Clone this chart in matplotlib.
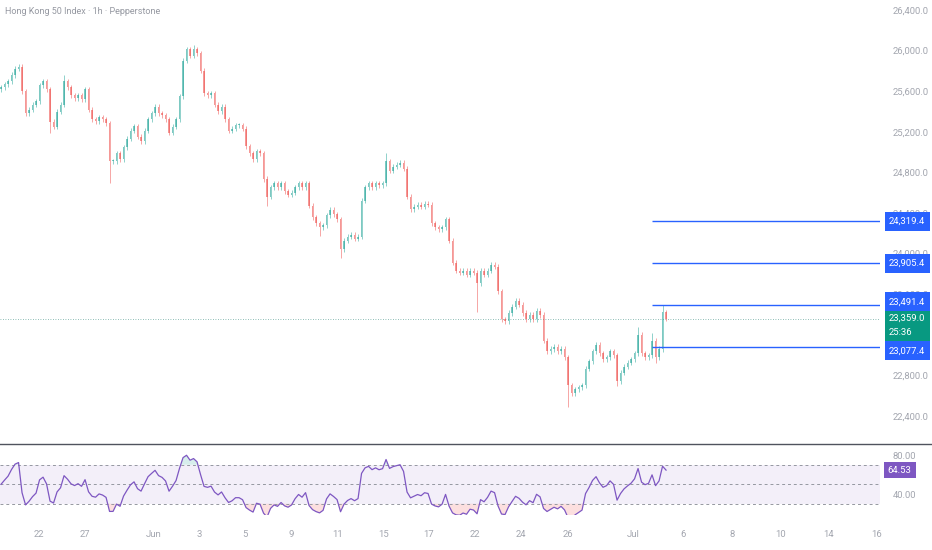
import matplotlib

matplotlib.use("Agg")
import matplotlib.pyplot as plt
import matplotlib.transforms as mtransforms
from matplotlib.lines import Line2D
from matplotlib.patches import Rectangle
import numpy as np

# hourly closes (one entry per drawn candle)
closes = [
    25640, 25670, 25700, 25760, 25820, 25840, 25600, 25385, 25420, 25465,
    25500, 25660, 25700, 25620, 25300, 25250, 25400, 25465, 25700, 25640,
    25560, 25530, 25560, 25520, 25620, 25420, 25325, 25305, 25345, 25325,
    25285, 24910, 24910, 24990, 24930, 25050, 25130, 25210, 25255, 25150,
    25110, 25210, 25325, 25385, 25445, 25385, 25365, 25325, 25190, 25250,
    25325, 25550, 25900, 26015, 25950, 26015, 25975, 25800, 25580, 25560,
    25580, 25465, 25405, 25445, 25325, 25210, 25230, 25265, 25265, 25230,
    25060, 24990, 24930, 25010, 24990, 24735, 24560, 24655, 24695, 24655,
    24695, 24615, 24580, 24600, 24655, 24695, 24655, 24695, 24470, 24360,
    24300, 24260, 24280, 24380, 24430, 24390, 24340, 24045, 24125, 24165,
    24185, 24145, 24165, 24520, 24655, 24695, 24655, 24695, 24675, 24695,
    24910, 24815, 24855, 24875, 24895, 24835, 24560, 24440, 24460, 24480,
    24460, 24490, 24480, 24300, 24260, 24240, 24260, 24340, 24125, 23910,
    23830, 23810, 23830, 23790, 23830, 23810, 23710, 23830, 23790, 23830,
    23890, 23870, 23630, 23355, 23335, 23415, 23475, 23535, 23495, 23415,
    23355, 23395, 23355, 23435, 23395, 23140, 23040, 23060, 23080, 23040,
    23060, 22980, 22705, 22625, 22665, 22685, 22705, 22865, 22940, 23040,
    23100, 23020, 22960, 22980, 23040, 23000, 22745, 22825, 22885, 22925,
    22960, 23020, 23200, 23020, 22980, 23000, 23140, 22980, 23060, 23420,
    23359,
]
first_open = 25620

# notable wicks (candle index -> price)
spike_high = {5: 25870, 18: 25760, 55: 26055, 110: 24990, 170: 23130,
              182: 23280, 186: 23220, 189: 23491}
spike_low = {14: 25190, 31: 24700, 76: 24470, 91: 24170, 97: 23960,
             136: 23425, 162: 22490, 176: 22700, 187: 22920}

levels = [24319.4, 23905.4, 23491.4, 23077.4]
last_price = 23359.0
countdown = "25:36"

price_ticks = [22400, 22800, 23200, 23600, 24000, 24400, 24800, 25200, 25600, 26000, 26400]
hidden_ticks = [23200]  # covered by the last-price tag
date_labels = ["22", "27", "Jun", "3", "5", "9", "11", "15", "17", "22", "24", "26",
               "Jul", "6", "8", "10", "14", "16"]
date_idx = [10.9, 24.0, 43.7, 56.6, 69.7, 82.9, 96.3, 109.4, 122.3, 135.4, 148.6,
            162.0, 180.6, 194.9, 208.9, 222.6, 236.3, 250.3]

UP = "#26a69a"
DOWN = "#ef5350"
BLUE = "#2962ff"
GREEN_TAG = "#089981"
PURPLE = "#7e57c2"
LABEL_GRAY = "#a3a6af"
FS = 6.8


def compute_rsi(values, period, start_gain=20.0, start_loss=20.0):
    """Wilder RSI on the closes, smoothing started from a neutral state."""
    ag, al = start_gain, start_loss
    out = [100 - 100 / (1 + ag / al)]
    for prev, cur in zip(values[:-1], values[1:]):
        d = cur - prev
        ag = (ag * (period - 1) + max(d, 0)) / period
        al = (al * (period - 1) + max(-d, 0)) / period
        out.append(100 - 100 / (1 + ag / al) if al > 0 else 100.0)
    return np.array(out)


plt.rcParams["font.family"] = ["Roboto", "DejaVu Sans"]

W, H = 932, 550
fig = plt.figure(figsize=(W / 100, H / 100), dpi=100)
MAIN_H = 443
RSI_H = 71
ax = fig.add_axes([0, 1 - MAIN_H / H, 880 / W, MAIN_H / H])
rax = fig.add_axes([0, 1 - 515 / H, 880 / W, RSI_H / H])

c = np.array(closes, dtype=float)
o = np.concatenate([[first_open], c[:-1]])
x = np.arange(len(c))
hi = np.maximum(o, c) + 25
lo = np.minimum(o, c) - 25
for k, v in spike_high.items():
    hi[k] = v
for k, v in spike_low.items():
    lo[k] = v

cols = np.where(c >= o, UP, DOWN)
ax.vlines(x, lo, hi, colors=cols, linewidth=0.6, alpha=0.6, zorder=2)
body = np.maximum(np.abs(c - o), 8)
ax.bar(x, body, bottom=np.minimum(o, c), width=0.45, color=cols, alpha=0.6,
       linewidth=0, zorder=2)

x_max = 880 / 3.5 - 0.3
ymin, ymax = 22134, 26499
ax.set_xlim(-0.3, x_max)
ax.set_ylim(ymin, ymax)
dy = (ymax - ymin) / MAIN_H  # price per pixel

# last price dotted line
ax.axhline(last_price, color="#6aa89e", linewidth=0.6, linestyle=(0, (1, 2)), zorder=1)

# horizontal levels from the latest candles out to the right edge
for lv in levels:
    ax.hlines(lv, 186, x_max, color=BLUE, linewidth=1.0, zorder=3)

for s in ax.spines.values():
    s.set_visible(False)
ax.set_xticks([])
ax.yaxis.tick_right()
ax.set_yticks(price_ticks)
ax.set_yticklabels(["" if p in hidden_ticks else f"{p:,.1f}" for p in price_ticks])
ax.tick_params(axis="y", length=0, pad=9, labelsize=FS, labelcolor=LABEL_GRAY)

trans = mtransforms.blended_transform_factory(ax.transAxes, ax.transData)
bx0 = 885 / 880
bw = 45 / 880
tx = 889 / 880
# tags next to the last price are pushed apart to make room for it
tag_shift = [0, 0, 3.5, -3.5]
tag_centers = [lv + s * dy for lv, s in zip(levels, tag_shift)]
g_top = tag_centers[2] - 9.5 * dy
g_bot = tag_centers[3] + 9.5 * dy
ax.add_patch(Rectangle((bx0, g_bot), bw, g_top - g_bot, transform=trans, fc=GREEN_TAG,
                       ec="none", clip_on=False, zorder=5))
ax.text(tx, last_price, f"{last_price:,.1f}", transform=trans, ha="left", va="center",
        fontsize=FS, color="white", clip_on=False, zorder=6)
ax.text(tx, last_price - 14 * dy, countdown, transform=trans, ha="left", va="center",
        fontsize=FS, color="white", clip_on=False, zorder=6)
for lv, yc in zip(levels, tag_centers):
    ax.add_patch(Rectangle((bx0, yc - 9.5 * dy), bw, 19 * dy, transform=trans, fc=BLUE,
                           ec="none", clip_on=False, zorder=7))
    ax.text(tx, yc, f"{lv:,.1f}", transform=trans, ha="left", va="center",
            fontsize=FS, color="white", clip_on=False, zorder=8)

fig.text(5 / W, 1 - 12 / H, "Hong Kong 50 Index \u00b7 1h \u00b7 Pepperstone",
         fontsize=6.5, color="#9598a1", ha="left", va="center")

# RSI panel
rsi = compute_rsi(closes, 9)
r_lo, r_hi = 18.5, 91.3
rax.axhspan(30, 70, color=PURPLE, alpha=0.09, linewidth=0)
for lvl in (70, 50, 30):
    rax.axhline(lvl, color="#9598a1", linewidth=0.7, linestyle=(0, (3, 3)))
rax.plot(x, rsi, color=PURPLE, linewidth=0.9)
rax.fill_between(x, rsi, 70, where=rsi > 70, color=UP, alpha=0.18, linewidth=0, interpolate=True)
rax.fill_between(x, rsi, 30, where=rsi < 30, color=DOWN, alpha=0.18, linewidth=0, interpolate=True)
rax.set_xlim(-0.3, x_max)
rax.set_ylim(r_lo, r_hi)
for s in rax.spines.values():
    s.set_visible(False)
rax.yaxis.tick_right()
rax.set_yticks([40, 80])
rax.set_yticklabels(["40.00", "80.00"])
rax.tick_params(axis="y", length=0, pad=9, labelsize=FS, labelcolor=LABEL_GRAY)
rax.set_xticks(date_idx)
rax.set_xticklabels(date_labels)
rax.tick_params(axis="x", length=0, pad=11, labelsize=FS, labelcolor=LABEL_GRAY)

rdy = (r_hi - r_lo) / RSI_H
rtrans = mtransforms.blended_transform_factory(rax.transAxes, rax.transData)
rax.add_patch(Rectangle((884 / 880, rsi[-1] - 8 * rdy), 32 / 880, 16 * rdy, transform=rtrans,
                        fc=PURPLE, ec="none", clip_on=False, zorder=6))
rax.text(887 / 880, rsi[-1], f"{rsi[-1]:.2f}", transform=rtrans, ha="left", va="center",
         fontsize=FS, color="white", clip_on=False, zorder=7)

# pane separator
fig.add_artist(Line2D([0, 1], [1 - 443.5 / H, 1 - 443.5 / H], color="#50535e",
                      linewidth=1.0, transform=fig.transFigure))

fig.savefig("out.png", dpi=100)
